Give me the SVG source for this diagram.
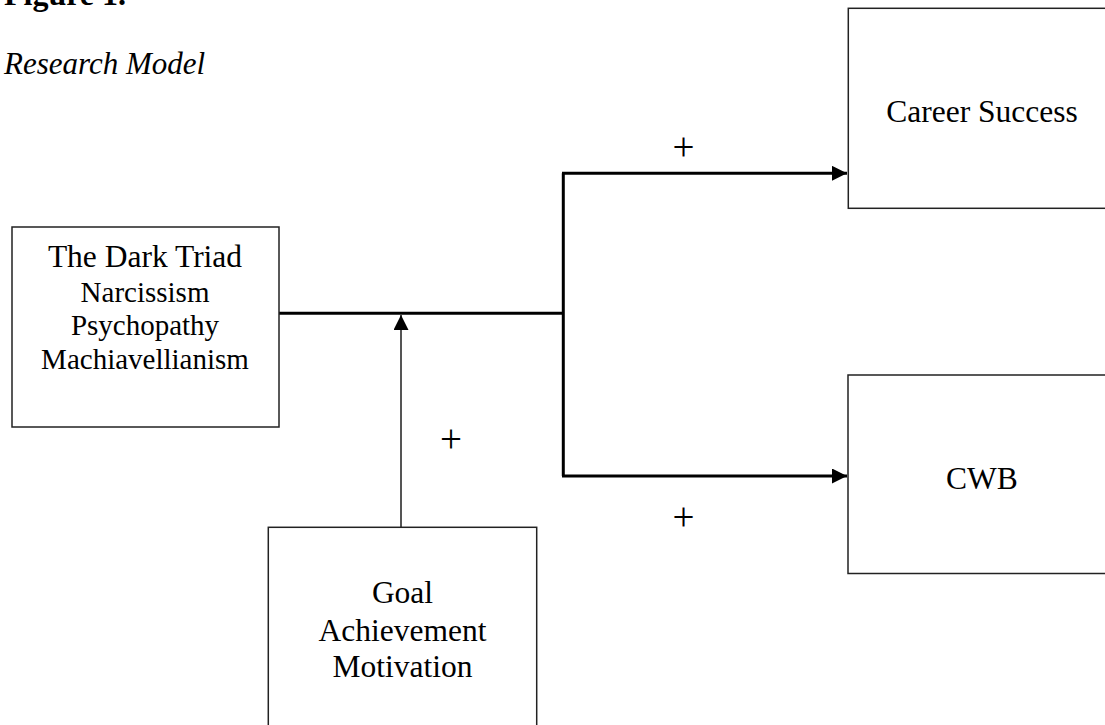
<svg xmlns="http://www.w3.org/2000/svg" width="1105" height="725" viewBox="0 0 1105 725">
<style>
.box{fill:#fff;stroke:#222;stroke-width:1.5}
.t{font-family:"Liberation Serif","Times New Roman",serif;fill:#000;text-anchor:middle}
.big{font-size:31.5px}
.sm{font-size:29px}
.plus{font-family:"Liberation Serif","Times New Roman",serif;font-size:39px;fill:#000;text-anchor:middle}
.thick{fill:none;stroke:#000;stroke-width:3}
.thin{fill:none;stroke:#555;stroke-width:2}
</style>
<defs>
<marker id="ah" markerUnits="userSpaceOnUse" markerWidth="16" markerHeight="16" refX="15" refY="7.5" orient="auto">
<path d="M0,0 L15,7.5 L0,15 Z" fill="#000"/>
</marker>
</defs>
<rect width="1105" height="725" fill="#fff"/>
<text x="4" y="5" style="font-family:'Liberation Serif','Times New Roman',serif;font-size:32px;font-weight:bold">Figure 1.</text>
<text x="4" y="74" style="font-family:'Liberation Serif','Times New Roman',serif;font-size:31px;font-style:italic">Research Model</text>
<g id="connectors">
<path class="thick" d="M279,313.3 H563.3"/>
<path class="thick" d="M563.3,173.3 V476"/>
<path class="thick" d="M562,173.3 H847" marker-end="url(#ah)"/>
<path class="thick" d="M562,476 H847" marker-end="url(#ah)"/>
<path class="thin" d="M401,527 V315" marker-end="url(#ah)"/>
<text class="plus" x="683.5" y="160">+</text>
<text class="plus" x="683.5" y="530">+</text>
<text class="plus" x="451" y="452">+</text>
</g>
<g id="dark-triad">
<rect class="box" x="12" y="227" width="267" height="200"/>
<text class="t big" x="145" y="267">The Dark Triad</text>
<text class="t sm" x="145" y="301.5">Narcissism</text>
<text class="t sm" x="145" y="335">Psychopathy</text>
<text class="t sm" x="145" y="369">Machiavellianism</text>
</g>
<g id="career-success">
<rect class="box" x="848.3" y="8.3" width="267" height="200"/>
<text class="t big" x="982" y="121.7">Career Success</text>
</g>
<g id="cwb">
<rect class="box" x="848" y="375" width="267" height="198.5"/>
<text class="t big" x="982" y="489.3">CWB</text>
</g>
<g id="goal">
<rect class="box" x="268.3" y="527.3" width="268.4" height="220"/>
<text class="t big" x="402.5" y="603.3">Goal</text>
<text class="t big" x="402.5" y="640.7">Achievement</text>
<text class="t big" x="402.5" y="676.7">Motivation</text>
</g>
</svg>
